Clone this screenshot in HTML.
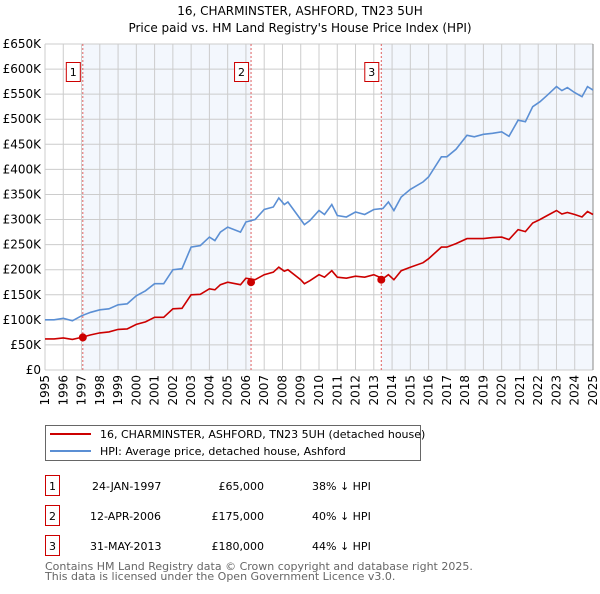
<!DOCTYPE html>
<html><head><meta charset="utf-8"><style>
body{margin:0;background:#fff;font-family:"DejaVu Sans","Liberation Sans",sans-serif;}
svg text{font-family:"DejaVu Sans","Liberation Sans",sans-serif;}
</style></head><body>
<svg id="c" width="600" height="590" viewBox="0 0 600 590" xmlns="http://www.w3.org/2000/svg">
<text x="300" y="15" text-anchor="middle" font-size="12" fill="#000">16, CHARMINSTER, ASHFORD, TN23 5UH</text>
<text x="300" y="32" text-anchor="middle" font-size="12" fill="#000">Price paid vs. HM Land Registry's House Price Index (HPI)</text>
<g id="plot"></g>
<g>
<rect x="45.5" y="425.5" width="375" height="35" fill="#fff" stroke="#666"/>
<line x1="50" y1="434" x2="91" y2="434" stroke="#cc0000" stroke-width="2"/>
<text x="100" y="438" font-size="11" fill="#000">16, CHARMINSTER, ASHFORD, TN23 5UH (detached house)</text>
<line x1="50" y1="451" x2="91" y2="451" stroke="#5b8fd4" stroke-width="2"/>
<text x="100" y="455" font-size="11" fill="#000">HPI: Average price, detached house, Ashford</text>
</g>
<g font-size="11" fill="#000">
<rect x="45.5" y="475.5" width="14" height="20" fill="#fff" stroke="#cc0000"/><text x="52.5" y="490" text-anchor="middle">1</text>
<text x="92" y="490">24-JAN-1997</text><text x="264" y="490" text-anchor="end">£65,000</text><text x="312" y="490">38% ↓ HPI</text>
<rect x="45.5" y="505.5" width="14" height="20" fill="#fff" stroke="#cc0000"/><text x="52.5" y="520" text-anchor="middle">2</text>
<text x="90" y="520">12-APR-2006</text><text x="264" y="520" text-anchor="end">£175,000</text><text x="312" y="520">40% ↓ HPI</text>
<rect x="45.5" y="535.5" width="14" height="20" fill="#fff" stroke="#cc0000"/><text x="52.5" y="550" text-anchor="middle">3</text>
<text x="90" y="550">31-MAY-2013</text><text x="264" y="550" text-anchor="end">£180,000</text><text x="312" y="550">44% ↓ HPI</text>
</g>
<text x="45" y="570" font-size="11" fill="#666">Contains HM Land Registry data © Crown copyright and database right 2025.</text>
<text x="45" y="580" font-size="11" fill="#666">This data is licensed under the Open Government Licence v3.0.</text>
</svg>
<script>
const years=[1995,1995.5,1996,1996.5,1997,1997.5,1998,1998.5,1999,1999.5,2000,2000.5,2001,2001.5,2002,2002.5,2003,2003.5,2004,2004.3,2004.6,2005,2005.7,2006,2006.5,2007,2007.5,2007.8,2008.1,2008.3,2009,2009.2,2009.5,2010,2010.3,2010.7,2011,2011.5,2012,2012.5,2013,2013.5,2013.8,2014.1,2014.5,2015,2015.7,2016,2016.7,2017,2017.5,2018.1,2018.5,2019,2019.5,2020,2020.4,2020.9,2021.3,2021.7,2022.1,2022.5,2023,2023.3,2023.6,2024,2024.4,2024.7,2025];
const hpi=[100,100,103,98,108,115,120,122,130,132,148,158,172,172,200,202,245,248,265,258,275,285,275,295,300,320,325,343,330,335,300,290,298,318,310,330,308,305,315,310,320,322,335,318,345,360,375,385,425,425,440,468,465,470,472,475,466,498,495,525,535,548,565,557,563,553,545,565,558];
const price=[62,62,64,61,65,70,74,76,81,82,91,96,105,105,122,123,150,151,162,160,170,175,170,183,180,190,195,205,197,200,180,172,178,190,185,198,185,183,187,185,190,182,190,180,198,205,214,222,245,245,252,262,262,262,264,265,260,280,276,293,300,308,318,311,314,310,305,316,310];
const saleYears=[1997.07,2006.28,2013.41];
const salePrices=[65,175,180];
const saleLabels=["1","2","3"];
const yTicks=[0,50,100,150,200,250,300,350,400,450,500,550,600,650];
const yTickLabels=["£0","£50K","£100K","£150K","£200K","£250K","£300K","£350K","£400K","£450K","£500K","£550K","£600K","£650K"];
const xTicks=[1995,1996,1997,1998,1999,2000,2001,2002,2003,2004,2005,2006,2007,2008,2009,2010,2011,2012,2013,2014,2015,2016,2017,2018,2019,2020,2021,2022,2023,2024,2025];

const X0=45,X1=593,Y0=370,Y1=44;
const x=v=>X0+(v-1995)/(2025-1995)*(X1-X0);
const y=v=>Y0-v/650*(Y0-Y1);
const NS="http://www.w3.org/2000/svg";
const g=document.getElementById('plot');
function mk(t,a){const e=document.createElementNS(NS,t);for(const k in a)e.setAttribute(k,a[k]);g.appendChild(e);return e;}
let e;
e=mk('rect',{x:X0,y:Y1,width:X1-X0,height:Y0-Y1,fill:'#fff'});


e=mk('rect',{x:x(saleYears[0]),y:Y1,width:x(saleYears[1])-x(saleYears[0]),height:Y0-Y1,fill:'#eef3fc',opacity:0.7});


e=mk('rect',{x:x(saleYears[2]),y:Y1,width:X1-x(saleYears[2]),height:Y0-Y1,fill:'#eef3fc',opacity:0.7});


yTicks.forEach((t,i)=>{
  e=mk('line',{x1:X0,x2:X1,y1:y(t),y2:y(t),stroke:'#cccccc','stroke-width':1});
  
  
  e=mk('text',{x:X0-4,y:y(t)+4,'text-anchor':'end','font-size':12,fill:'#000'});
  e.textContent=yTickLabels[i];
  
  
});
xTicks.forEach(t=>{
  e=mk('line',{x1:x(t),x2:x(t),y1:Y1,y2:Y0,stroke:'#cccccc','stroke-width':1});
  
  
  e=mk('text',{x:0,y:0,'text-anchor':'end','font-size':12,fill:'#000',transform:`translate(${x(t)+4},${Y0+5}) rotate(-90)`});
  e.textContent=String(t);
  
  
});
e=mk('line',{x1:X1,x2:X1,y1:Y1,y2:Y0,stroke:'#888','stroke-width':1});


saleYears.forEach((s,i)=>{
  e=mk('line',{x1:x(s),x2:x(s),y1:Y1,y2:Y0,stroke:'#e06060','stroke-width':1,'stroke-dasharray':'2,2'});
  
  
  e=mk('rect',{x:x(s)-16.5,y:62.5,width:14,height:19,fill:'#fff',stroke:'#cc0000'});
  
  
  e=mk('text',{x:x(s)-9.5,y:76,'text-anchor':'middle','font-size':11,fill:'#000'});
  e.textContent=saleLabels[i];
  
  
});
function path(vals){return vals.map((v,i)=>(i?'L':'M')+x(years[i]).toFixed(1)+','+y(v).toFixed(1)).join('');}
e=mk('path',{d:path(hpi),fill:'none',stroke:'#5b8fd4','stroke-width':1.6});


e=mk('path',{d:path(price),fill:'none',stroke:'#cc0000','stroke-width':1.6});


saleYears.forEach((s,i)=>{
  e=mk('circle',{cx:x(s),cy:y(salePrices[i]),r:4,fill:'#cc0000'});
  
  
});
</script>
</body></html>
